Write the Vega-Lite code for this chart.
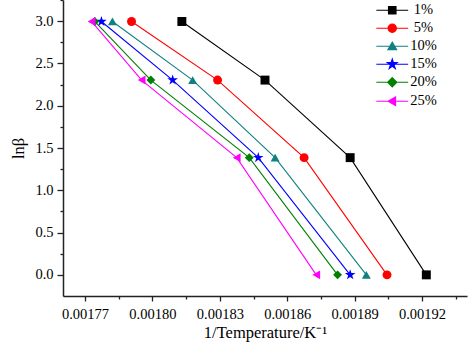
{
  "$schema": "https://vega.github.io/schema/vega-lite/v6.json",
  "width": 404,
  "height": 296,
  "autosize": {"type": "none"},
  "padding": {"left": 63, "top": 0, "right": 7, "bottom": 62},
  "background": "white",
  "config": {
    "font": "Liberation Serif",
    "view": {"stroke": null},
    "axis": {"grid": false, "domainColor": "#222222", "domainWidth": 1.5, "tickColor": "#222222", "tickWidth": 1.3, "labelColor": "black", "titleColor": "black", "labelFont": "Liberation Serif", "titleFont": "Liberation Serif", "labelFontSize": 14.5, "titleFontSize": 16.5, "titleFontWeight": "normal"},
    "legend": {"labelFont": "Liberation Serif", "labelFontSize": 14.5, "labelColor": "black"}
  },
  "data": {
    "values": [
      {"x": 0.0018131, "y": 2.996, "s": "1%"},
      {"x": 0.0018501, "y": 2.303, "s": "1%"},
      {"x": 0.0018880, "y": 1.386, "s": "1%"},
      {"x": 0.0019219, "y": 0.0, "s": "1%"},
      {"x": 0.0017907, "y": 2.996, "s": "5%"},
      {"x": 0.0018290, "y": 2.303, "s": "5%"},
      {"x": 0.0018675, "y": 1.386, "s": "5%"},
      {"x": 0.0019044, "y": 0.0, "s": "5%"},
      {"x": 0.0017822, "y": 2.996, "s": "10%"},
      {"x": 0.0018179, "y": 2.303, "s": "10%"},
      {"x": 0.0018546, "y": 1.386, "s": "10%"},
      {"x": 0.0018952, "y": 0.0, "s": "10%"},
      {"x": 0.0017773, "y": 2.996, "s": "15%"},
      {"x": 0.0018090, "y": 2.303, "s": "15%"},
      {"x": 0.0018471, "y": 1.386, "s": "15%"},
      {"x": 0.0018880, "y": 0.0, "s": "15%"},
      {"x": 0.0017743, "y": 2.996, "s": "20%"},
      {"x": 0.0017993, "y": 2.303, "s": "20%"},
      {"x": 0.0018431, "y": 1.386, "s": "20%"},
      {"x": 0.0018824, "y": 0.0, "s": "20%"},
      {"x": 0.0017729, "y": 2.996, "s": "25%"},
      {"x": 0.0017952, "y": 2.303, "s": "25%"},
      {"x": 0.0018375, "y": 1.386, "s": "25%"},
      {"x": 0.0018729, "y": 0.0, "s": "25%"}
    ]
  },
  "encoding": {
    "x": {
      "field": "x", "type": "quantitative",
      "scale": {"domain": [0.0017602, 0.00194], "nice": false, "zero": false},
      "axis": {
        "title": "1/Temperature/K⁻¹",
        "values": [0.00177, 0.001785, 0.0018, 0.001815, 0.00183, 0.001845, 0.00186, 0.001875, 0.00189, 0.001905, 0.00192, 0.001935],
        "labelExpr": "round((datum.value-0.00177)/0.000015) % 2 == 0 ? format(datum.value, '.5f') : ''",
        "tickSize": {"condition": {"test": "round((datum.value-0.00177)/0.000015) % 2 == 0", "value": 5}, "value": 3},
        "labelPadding": 6,
        "titlePadding": 4
      }
    },
    "y": {
      "field": "y", "type": "quantitative",
      "scale": {"domain": [-0.25, 3.25], "nice": false, "zero": false},
      "axis": {
        "title": "lnβ",
        "values": [0, 0.25, 0.5, 0.75, 1, 1.25, 1.5, 1.75, 2, 2.25, 2.5, 2.75, 3, 3.25],
        "labelExpr": "abs(datum.value*2-round(datum.value*2))<1e-6 ? format(datum.value, '.1f') : ''",
        "tickSize": {"condition": {"test": "abs(datum.value*2-round(datum.value*2))<1e-6", "value": 6}, "value": 3},
        "labelPadding": 4,
        "titlePadding": 8
      }
    }
  },
  "layer": [
    {
      "mark": {"type": "line", "strokeWidth": 1.1},
      "encoding": {
        "color": {
          "field": "s", "type": "nominal",
          "scale": {"domain": ["1%", "5%", "10%", "15%", "20%", "25%"], "range": ["#000000", "#FF0000", "#108080", "#0000FF", "#008000", "#FF00FF"]},
          "legend": null
        }
      }
    },
    {
      "mark": {"type": "point", "filled": true, "opacity": 1, "size": 80},
      "encoding": {
        "color": {
          "field": "s", "type": "nominal",
          "scale": {"domain": ["1%", "5%", "10%", "15%", "20%", "25%"], "range": ["#000000", "#FF0000", "#108080", "#0000FF", "#008000", "#FF00FF"]},
          "legend": null
        },
        "shape": {
          "field": "s", "type": "nominal",
          "scale": {"domain": ["1%", "5%", "10%", "15%", "20%", "25%"], "range": ["square", "circle", "triangle-up", "M0,-1.25L0.28,-0.39L1.19,-0.39L0.45,0.15L0.73,1.01L0,0.48L-0.73,1.01L-0.45,0.15L-1.19,-0.39L-0.28,-0.39Z", "diamond", "triangle-left"]},
          "legend": null
        }
      }
    },
    {
      "transform": [{"filter": "false"}],
      "mark": {"type": "point", "filled": true, "opacity": 1, "size": 70, "strokeWidth": 1.1},
      "encoding": {
        "color": {
          "field": "s", "type": "nominal",
          "scale": {"domain": ["1%", "5%", "10%", "15%", "20%", "25%"], "range": ["#000000", "#FF0000", "#108080", "#0000FF", "#008000", "#FF00FF"]},
          "legend": {"title": null, "orient": "none", "legendX": 322, "legendY": 3, "symbolSize": 70, "symbolOpacity": 1, "symbolStrokeWidth": 1.1, "labelAlign": "center", "labelOffset": 24, "rowPadding": 3, "padding": 0}
        },
        "stroke": {
          "field": "s", "type": "nominal",
          "scale": {"domain": ["1%", "5%", "10%", "15%", "20%", "25%"], "range": ["#000000", "#FF0000", "#108080", "#0000FF", "#008000", "#FF00FF"]},
          "legend": {"title": null, "orient": "none", "legendX": 322, "legendY": 3, "symbolSize": 70, "symbolOpacity": 1, "symbolStrokeWidth": 1.1, "labelAlign": "center", "labelOffset": 24, "rowPadding": 3, "padding": 0}
        },
        "shape": {
          "field": "s", "type": "nominal",
          "scale": {"domain": ["1%", "5%", "10%", "15%", "20%", "25%"], "range": [
            "M-3.8,0L3.8,0M-0.9,-0.9L0.9,-0.9L0.9,0.9L-0.9,0.9Z",
            "M-3.8,0L3.8,0M1,0A1,1,0,1,1,-1,0A1,1,0,1,1,1,0Z",
            "M-3.8,0L3.8,0M0,-1L1.05,0.8L-1.05,0.8Z",
            "M-3.8,0L3.8,0M0,-1.25L0.28,-0.39L1.19,-0.39L0.45,0.15L0.73,1.01L0,0.48L-0.73,1.01L-0.45,0.15L-1.19,-0.39L-0.28,-0.39Z",
            "M-3.8,0L3.8,0M0,-1.1L1.1,0L0,1.1L-1.1,0Z",
            "M-3.8,0L3.8,0M-1,0L0.8,-1.05L0.8,1.05Z"
          ]},
          "legend": {"title": null, "orient": "none", "legendX": 322, "legendY": 3, "symbolSize": 70, "symbolOpacity": 1, "symbolStrokeWidth": 1.1, "labelAlign": "center", "labelOffset": 24, "rowPadding": 3, "padding": 0}
        }
      }
    }
  ],
  "resolve": {"scale": {"shape": "independent", "stroke": "independent"}, "legend": {"color": "independent", "shape": "independent", "stroke": "independent"}}
}
